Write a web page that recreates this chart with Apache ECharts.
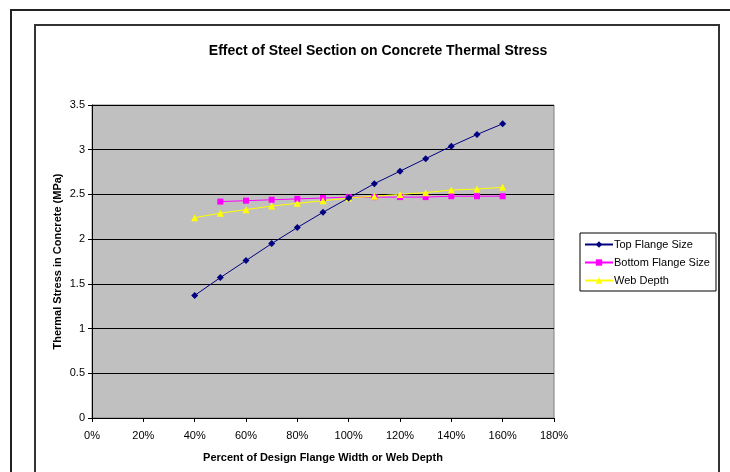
<!DOCTYPE html>
<html><head><meta charset="utf-8">
<script src="https://cdn.jsdelivr.net/npm/echarts@6/dist/echarts.min.js"></script>
<style>html,body{margin:0;padding:0;background:#fff}#c{width:730px;height:472px}</style>
</head><body><div id="c"></div>
<script>
var xTop = [40,50,60,70,80,90,100,110,120,130,140,150,160];
var topFlange = [1.37,1.57,1.76,1.95,2.13,2.30,2.46,2.62,2.76,2.90,3.04,3.17,3.29];
var xBottom = [50,60,70,80,90,100,110,120,130,140,150,160];
var bottomFlange = [2.42,2.43,2.44,2.45,2.46,2.47,2.47,2.47,2.47,2.48,2.48,2.48];
var xWeb = [40,50,60,70,80,90,100,110,120,130,140,150,160];
var webDepth = [2.24,2.29,2.33,2.37,2.40,2.43,2.46,2.48,2.50,2.52,2.55,2.56,2.58];
var seriesNames = ['Top Flange Size','Bottom Flange Size','Web Depth'];

function pairs(xs, ys){ return xs.map(function(x,i){return [x, ys[i]];}); }

var chart = echarts.init(document.getElementById('c'), null, {renderer:'canvas'});
var font = 'Arial, "Liberation Sans", sans-serif';
chart.setOption({
  animation:false,
  backgroundColor:'#fff',
  title:{text:'Effect of Steel Section on Concrete Thermal Stress', left:373, top:39, textAlign:'center',
    textStyle:{fontFamily:font, fontSize:14, fontWeight:'bold', color:'#000'}},
  graphic:[
    {type:'polyline', shape:{points:[[11,480],[11,10],[740,10]]}, style:{stroke:'#222', lineWidth:2, fill:null}},
    {type:'polyline', shape:{points:[[35,480],[35,25],[719,25],[719,480]]}, style:{stroke:'#333', lineWidth:2, fill:null}},
    {type:'rect', shape:{x:92, y:105, width:462, height:313}, style:{fill:'#C0C0C0', stroke:'#808080', lineWidth:1}, z:-1}
  ],
  grid:{left:92, right:176, top:105, bottom:54, show:false},
  legend:{
    orient:'vertical', left:580, top:233, width:136,
    padding:[6,6,5,4], itemGap:7,
    borderColor:'#000', borderWidth:1, backgroundColor:'#fff',
    itemWidth:28, itemHeight:8,
    textStyle:{fontFamily:font, fontSize:11, color:'#000', padding:[0,0,0,-4]},
    data:seriesNames
  },
  xAxis:{
    type:'value', min:0, max:180, interval:20,
    name:'Percent of Design Flange Width or Web Depth', nameLocation:'middle', nameGap:34,
    nameMoveOverlap:false,
    nameTextStyle:{fontFamily:font, fontSize:11, fontWeight:'bold', color:'#000'},
    axisLine:{show:true, lineStyle:{color:'#000', width:1}},
    axisTick:{show:true, length:4, lineStyle:{color:'#000'}},
    axisLabel:{fontFamily:font, fontSize:11, color:'#000', margin:12, formatter:function(v){return v+'%';}},
    splitLine:{show:false}
  },
  yAxis:{
    type:'value', min:0, max:3.5, interval:0.5,
    name:'Thermal Stress in Concrete (MPa)', nameLocation:'middle', nameGap:29, nameRotate:90,
    nameMoveOverlap:false,
    nameTextStyle:{fontFamily:font, fontSize:11, fontWeight:'bold', color:'#000'},
    axisLine:{show:true, lineStyle:{color:'#000', width:1}},
    axisTick:{show:true, length:4, lineStyle:{color:'#000'}},
    axisLabel:{fontFamily:font, fontSize:11, color:'#000', margin:7},
    splitLine:{show:true, lineStyle:{color:'#000', width:1}}
  },
  series:[
    {name:seriesNames[0], type:'line', data:pairs(xTop, topFlange), symbol:'diamond', symbolSize:7,
      lineStyle:{color:'#000080', width:1}, itemStyle:{color:'#000080'}, z:3},
    {name:seriesNames[1], type:'line', data:pairs(xBottom, bottomFlange), symbol:'rect', symbolSize:6,
      lineStyle:{color:'#FF00FF', width:1}, itemStyle:{color:'#FF00FF'}, z:2},
    {name:seriesNames[2], type:'line', data:pairs(xWeb, webDepth), symbol:'triangle', symbolSize:7,
      lineStyle:{color:'#FFFF00', width:1}, itemStyle:{color:'#FFFF00'}, z:2}
  ]
});
</script></body></html>
